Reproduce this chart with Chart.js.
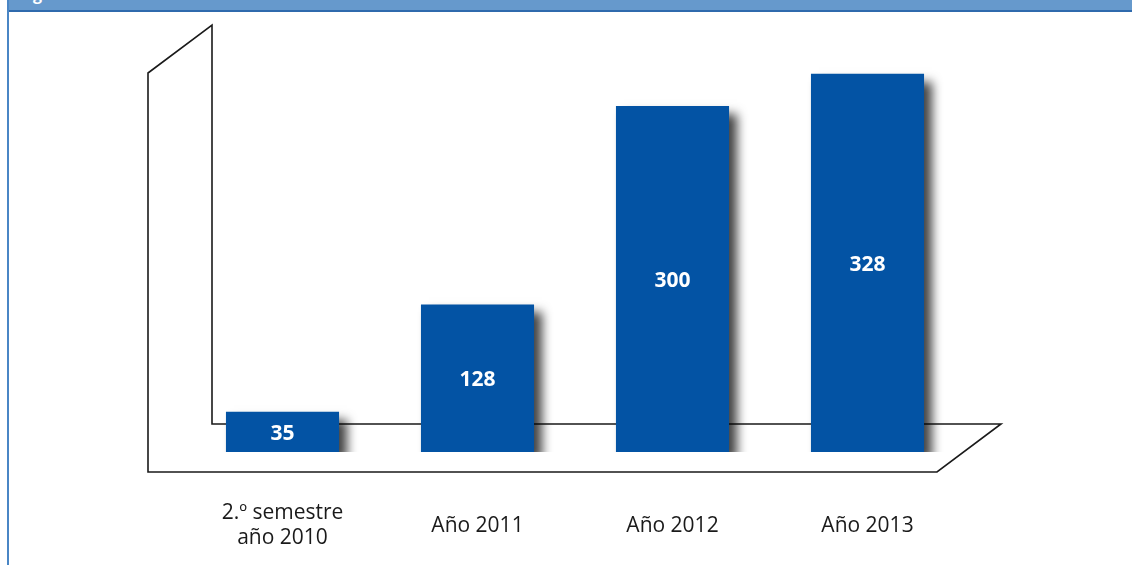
<!DOCTYPE html>
<html>
<head>
<meta charset="utf-8">
<script src="https://cdn.jsdelivr.net/npm/chart.js@4/dist/chart.umd.min.js"></script>
<style>
  html, body { margin: 0; padding: 0; background: #fff; overflow: hidden; }
  #wrap { position: relative; width: 1132px; height: 565px; }
  #chart { position: absolute; left: 0; top: 0; }
  #header { position: absolute; left: 7px; top: 0; width: 1125px; height: 10px; background: #6699cc; border-bottom: 2px solid #2f6aad; overflow: hidden; }
  #header span { position: absolute; left: 26px; top: -17px; color: #fff; font: bold 16px "Open Sans", sans-serif; }
  #leftborder { position: absolute; left: 7px; top: 0; width: 2px; height: 565px; background: #4a86c5; }
</style>
</head>
<body>
<div id="wrap">
  <canvas id="chart" width="1132" height="565"></canvas>
  <div id="header"><span>g</span></div>
  <div id="leftborder"></div>
</div>
<script>
const categories = [['2.º semestre', 'año 2010'], 'Año 2011', 'Año 2012', 'Año 2013'];
const values = [35, 128, 300, 328];

const barColor = '#0353a4';

const framePlugin = {
  id: 'frame',
  beforeDatasetsDraw(chart) {
    const { ctx, chartArea } = chart;
    const yZero = chart.scales.y.getPixelForValue(0);
    const L = chartArea.left, R = chartArea.right;
    const frontY = yZero + 20, backY = yZero - 28;
    const fl = L - 37, bl = L + 27, fr = R - 28, br = R + 36;
    const topBack = chartArea.top - 35, topFront = chartArea.top + 13;
    ctx.save();
    ctx.strokeStyle = '#1a1a1a';
    ctx.lineWidth = 1.6;
    ctx.lineJoin = 'miter';
    ctx.beginPath();
    ctx.moveTo(fl, topFront);
    ctx.lineTo(bl, topBack);
    ctx.lineTo(bl, backY);
    ctx.lineTo(br, backY);
    ctx.lineTo(fr, frontY);
    ctx.lineTo(fl, frontY);
    ctx.closePath();
    ctx.stroke();
    ctx.restore();
  }
};

const shadowPlugin = {
  id: 'barShadow',
  beforeDatasetDraw(chart) {
    const ctx = chart.ctx;
    ctx.save();
    ctx.shadowColor = 'rgba(0,0,0,0.75)';
    ctx.shadowBlur = 10;
    ctx.shadowOffsetX = 8;
    ctx.shadowOffsetY = 8;
  },
  afterDatasetDraw(chart) {
    chart.ctx.restore();
  }
};

const labelPlugin = {
  id: 'valueLabels',
  afterDatasetsDraw(chart) {
    const { ctx } = chart;
    const meta = chart.getDatasetMeta(0);
    ctx.save();
    ctx.fillStyle = '#ffffff';
    ctx.font = 'bold 21px "Open Sans", sans-serif';
    ctx.textAlign = 'center';
    ctx.textBaseline = 'middle';
    meta.data.forEach((bar, i) => {
      const yc = (bar.y + bar.base) / 2 + 2;
      ctx.fillText(String(values[i]), bar.x, yc);
    });
    ctx.restore();
  }
};

new Chart(document.getElementById('chart'), {
  type: 'bar',
  data: {
    labels: categories,
    datasets: [{
      data: values,
      backgroundColor: barColor,
      borderWidth: 0,
      barPercentage: 0.58,
      categoryPercentage: 1.0
    }]
  },
  options: {
    responsive: false,
    animation: false,
    events: [],
    layout: { padding: { left: 185, right: 167, top: 60, bottom: 0 } },
    plugins: { legend: { display: false }, tooltip: { enabled: false } },
    scales: {
      x: {
        grid: { display: false, drawTicks: false },
        border: { display: false },
        afterFit(scale) { scale.height = 113; },
        ticks: {
          color: '#1a1a1a',
          font: { family: '"Open Sans", sans-serif', size: 21, lineHeight: 1.2 },
          padding: 61,
          crossAlign: 'center',
          maxRotation: 0,
          autoSkip: false
        }
      },
      y: {
        display: false,
        min: 0,
        max: 340
      }
    }
  },
  plugins: [framePlugin, shadowPlugin, labelPlugin]
});
</script>
</body>
</html>
